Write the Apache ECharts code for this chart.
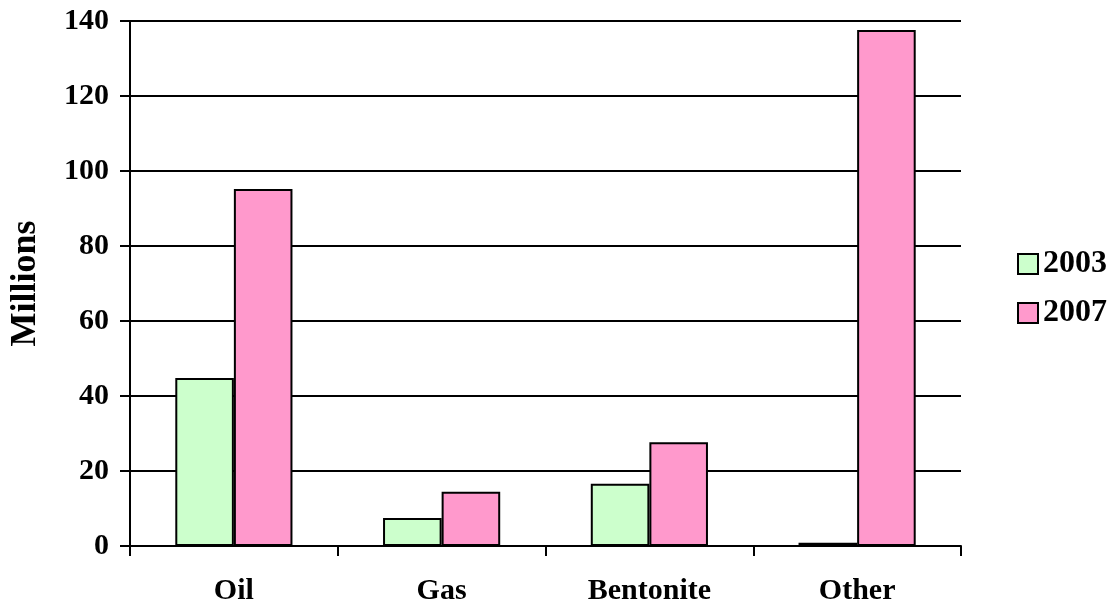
<!DOCTYPE html>
<html>
<head>
<meta charset="utf-8">
<script src="https://cdn.jsdelivr.net/npm/echarts@6/dist/echarts.min.js"></script>
<style>
  html, body { margin: 0; padding: 0; background: #fff; }
  #chart { width: 1119px; height: 603px; }
</style>
</head>
<body>
<div id="chart"></div>
<script>
// Revenue by source, millions
const categories = ['Oil', 'Gas', 'Bentonite', 'Other'];
const values2003 = [44.8, 7.5, 16.6, 0.9];
const values2007 = [95.2, 14.5, 27.7, 137.6];
const seriesNames = ['2003', '2007'];
const yTicks = { min: 0, max: 140, interval: 20 };

const FONT = '"Liberation Serif", "Times New Roman", serif';

const chart = echarts.init(document.getElementById('chart'));
chart.setOption({
  animation: false,
  backgroundColor: '#fff',
  textStyle: { fontFamily: FONT },
  grid: { left: 130, right: 158, top: 21, bottom: 57, containLabel: false, outerBoundsMode: 'none' },
  legend: {
    orient: 'vertical',
    left: 1012,
    top: 243,
    itemWidth: 20,
    itemHeight: 20,
    itemGap: 17,
    icon: 'rect',
    textStyle: { fontFamily: FONT, fontSize: 32, fontWeight: 'bold', color: '#000', lineHeight: 31 },
    data: seriesNames
  },
  xAxis: {
    type: 'category',
    data: categories,
    axisLine: { lineStyle: { color: '#000', width: 2 } },
    axisTick: { show: true, length: 10, lineStyle: { color: '#000', width: 2 } },
    axisLabel: { fontFamily: FONT, fontSize: 30, fontWeight: 'bold', color: '#000', margin: 30 }
  },
  yAxis: {
    type: 'value',
    min: yTicks.min,
    max: yTicks.max,
    interval: yTicks.interval,
    name: 'Millions',
    nameLocation: 'middle',
    nameGap: 86,
    nameRotate: 90,
    nameTextStyle: { fontFamily: FONT, fontSize: 36, fontWeight: 'bold', color: '#000' },
    axisLine: { show: true, lineStyle: { color: '#000', width: 2 } },
    axisTick: { show: true, length: 10, lineStyle: { color: '#000', width: 2 } },
    axisLabel: { fontFamily: FONT, fontSize: 30, fontWeight: 'bold', color: '#000', margin: 21 },
    splitLine: { show: true, lineStyle: { color: '#000', width: 2 } }
  },
  series: [
    {
      name: seriesNames[0],
      type: 'bar',
      data: values2003,
      barGap: '0%',
      barCategoryGap: '43.6%',
      itemStyle: { color: '#CCFFCC', borderColor: '#000', borderWidth: 2 }
    },
    {
      name: seriesNames[1],
      type: 'bar',
      data: values2007,
      itemStyle: { color: '#FF99CC', borderColor: '#000', borderWidth: 2 }
    }
  ]
});
</script>
</body>
</html>
